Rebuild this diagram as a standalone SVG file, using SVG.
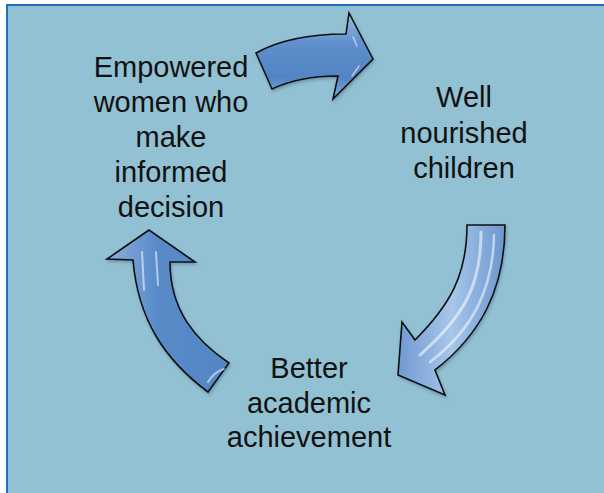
<svg xmlns="http://www.w3.org/2000/svg" width="604" height="493" viewBox="0 0 604 493">
  <style>
    .lbl { font-family: "Liberation Sans", Arial, sans-serif; font-size: 29px; fill: #111111; text-anchor: middle; }
    .arrow { stroke: #111111; stroke-width: 1.6; stroke-linejoin: miter; filter: url(#shadow); }
    .gloss { fill: none; stroke: #ffffff; stroke-linecap: round; opacity: 0.55; }
  </style>
  <defs>
    <linearGradient id="gTop" x1="0" y1="0" x2="0" y2="1">
      <stop offset="0" stop-color="#9dbfe4"/>
      <stop offset="0.35" stop-color="#5f8fcc"/>
      <stop offset="0.75" stop-color="#5284c4"/>
      <stop offset="1" stop-color="#86aad8"/>
    </linearGradient>
    <linearGradient id="gRight" x1="0" y1="0" x2="1" y2="0">
      <stop offset="0" stop-color="#6f9ad2"/>
      <stop offset="0.5" stop-color="#a7c6ea"/>
      <stop offset="1" stop-color="#6b97cf"/>
    </linearGradient>
    <linearGradient id="gLeft" x1="0" y1="0" x2="1" y2="0">
      <stop offset="0" stop-color="#8db1dc"/>
      <stop offset="0.4" stop-color="#5a8bc9"/>
      <stop offset="1" stop-color="#5385c4"/>
    </linearGradient>
    <filter id="shadow" x="-20%" y="-20%" width="140%" height="140%">
      <feDropShadow dx="1" dy="2" stdDeviation="1.5" flood-color="#2a4a60" flood-opacity="0.35"/>
    </filter>
  </defs>

  <rect x="7" y="5" width="700" height="600" fill="#92c1d3" stroke="#1f6fc0" stroke-width="2"/>

  <g id="connectors">
    <g id="arrow-top">
      <path class="arrow" fill="url(#gTop)" d="M256,53 L272,89 Q300,76 338,76 L333,99 L373,59 L349,13 L346,34 Q290,34 256,53 Z"/>
      <path class="gloss" stroke-width="1.5" d="M353,37 L357,46"/>
      <path class="gloss" stroke-width="1.5" d="M359,66 L352,76"/>
    </g>
    <g id="arrow-right">
      <path class="arrow" fill="url(#gRight)" d="M467,225 L505,225 C505,290 480,335 435,370 L445,395 L398,375 L402,322 L415,340 C450,305 467,275 467,225 Z"/>
      <path class="gloss" stroke-width="3" opacity="0.85" d="M481,232 C481,285 465,315 420,355"/>
      <path class="gloss" stroke-width="2.5" opacity="0.75" d="M494,235 C493,290 472,330 430,362"/>
    </g>
    <g id="arrow-left">
      <path class="arrow" fill="url(#gLeft)" d="M149,230 L107,259 L133,260 C138,320 165,360 208,392 L229,363 C195,340 170,310 170,262 L195,262 Z"/>
      <path class="gloss" stroke-width="2" opacity="0.45" d="M142,252 L144,290"/>
      <path class="gloss" stroke-width="2" opacity="0.45" d="M156,252 L158,285"/>
      <path class="gloss" stroke-width="2" opacity="0.8" d="M208,382 Q214,372 224,369"/>
    </g>
  </g>

  <g id="node-empowered">
    <text class="lbl" x="171" y="77">Empowered</text>
    <text class="lbl" x="171" y="112">women who</text>
    <text class="lbl" x="171" y="147">make</text>
    <text class="lbl" x="171" y="182">informed</text>
    <text class="lbl" x="171" y="217">decision</text>
  </g>
  <g id="node-nourished">
    <text class="lbl" x="464" y="107">Well</text>
    <text class="lbl" x="464" y="143">nourished</text>
    <text class="lbl" x="464" y="178">children</text>
  </g>
  <g id="node-academic">
    <text class="lbl" x="309" y="378">Better</text>
    <text class="lbl" x="309" y="413">academic</text>
    <text class="lbl" x="309" y="447">achievement</text>
  </g>
</svg>
